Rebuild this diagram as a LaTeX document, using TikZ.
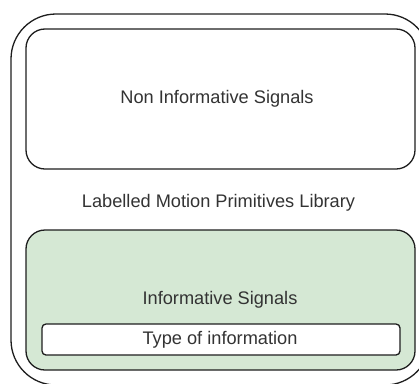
\documentclass[tikz,border=0pt]{standalone}
\usepackage{fontspec}
\setmainfont{Liberation Sans}
\begin{document}
\begin{tikzpicture}[x=1pt,y=-1pt,
  box/.style={draw=linec, line width=1.3pt, inner sep=0pt, outer sep=0pt},
  lbl/.style={text=textc, font=\fontsize{18.2}{21}\selectfont, inner sep=0pt}]
\definecolor{linec}{HTML}{1E1E1E}
\definecolor{textc}{HTML}{333333}
\definecolor{greenf}{HTML}{D5E8D4}
\useasboundingbox (0,0) rectangle (419,383);
\clip (0,0) rectangle (419,383);
\node[box, rounded corners=45pt, minimum width=419pt, minimum height=371pt] (outer) at (220.5,199.5) {};
\node[box, rounded corners=19pt, fill=white, minimum width=389pt, minimum height=140pt] (top) at (220.5,99) {};
\node[box, rounded corners=19pt, fill=greenf, minimum width=389pt, minimum height=140pt] (green) at (220.5,300) {};
\node[box, rounded corners=4pt, fill=white, minimum width=358pt, minimum height=31pt] (inner) at (221,339.5) {};
\node[lbl] (t1) at (217,98.5) {Non Informative Signals};
\node[lbl] (t2) at (218.5,203) {Labelled Motion Primitives Library};
\node[lbl] (t3) at (220,299.5) {Informative Signals};
\node[lbl] (t4) at (220,339.5) {Type of information};
\end{tikzpicture}
\end{document}
